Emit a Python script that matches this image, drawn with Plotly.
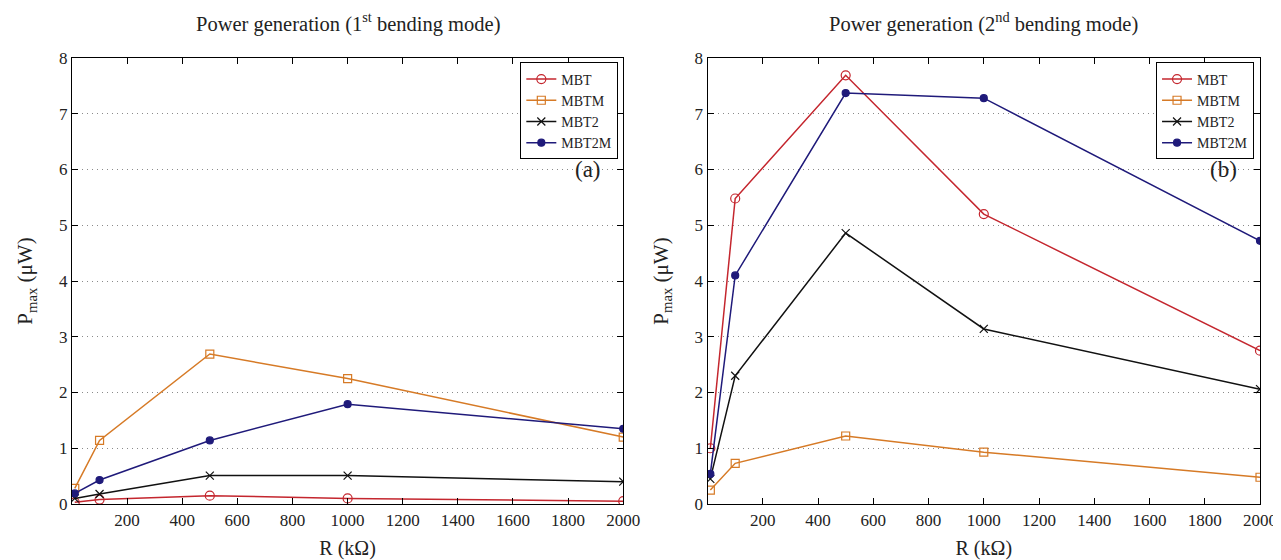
import plotly.graph_objects as go

R = [10, 100, 500, 1000, 2000]
series_names = ["MBT", "MBTM", "MBT2", "MBT2M"]
mode1 = {
    "MBT": [0.03, 0.08, 0.15, 0.10, 0.05],
    "MBTM": [0.28, 1.14, 2.69, 2.25, 1.20],
    "MBT2": [0.10, 0.18, 0.51, 0.51, 0.40],
    "MBT2M": [0.19, 0.43, 1.14, 1.79, 1.35],
}
mode2 = {
    "MBT": [1.00, 5.48, 7.69, 5.20, 2.75],
    "MBTM": [0.25, 0.73, 1.22, 0.93, 0.48],
    "MBT2": [0.45, 2.30, 4.86, 3.14, 2.06],
    "MBT2M": [0.54, 4.10, 7.37, 7.28, 4.72],
}
x_ticks = [200, 400, 600, 800, 1000, 1200, 1400, 1600, 1800, 2000]
y_ticks = [0, 1, 2, 3, 4, 5, 6, 7, 8]

styles = {
    "MBT": dict(color="#c4262e", symbol="circle-open", size=9),
    "MBTM": dict(color="#d67a26", symbol="square-open", size=8),
    "MBT2": dict(color="#111111", symbol="x-thin-open", size=8),
    "MBT2M": dict(color="#1f1a7a", symbol="circle", size=7),
}

FONT = "'Liberation Serif', 'Times New Roman', 'DejaVu Serif', serif"
fig = go.Figure()

for panel, data, xa, ya, leg in [(0, mode1, "x", "y", "legend"), (1, mode2, "x2", "y2", "legend2")]:
    for name in series_names:
        s = styles[name]
        fig.add_trace(go.Scatter(
            x=R, y=data[name], mode="lines+markers", name=name,
            xaxis=xa, yaxis=ya, legend=leg,
            line=dict(color=s["color"], width=1.5),
            marker=dict(symbol=s["symbol"], size=s["size"], color=s["color"],
                        line=dict(color=s["color"], width=1.2)),
        ))

axis_common = dict(
    showline=True, linecolor="black", linewidth=1.2, mirror="ticks",
    ticks="inside", ticklen=6, tickcolor="black",
    tickfont=dict(family=FONT, size=17, color="#222"),
    zeroline=False,
)
grid = dict(showgrid=True, gridcolor="#8a8a8a", griddash="1px,4px", gridwidth=1)
xtitle = dict(text="R (kΩ)", font=dict(family=FONT, size=20), standoff=12)
ytitle = dict(text="P<sub>max</sub> (μW)", font=dict(family=FONT, size=21), standoff=20)
leg_common = dict(y=0.99, xanchor="right", yanchor="top",
                  bgcolor="white", bordercolor="black", borderwidth=1,
                  font=dict(family=FONT, size=14, color="#222"),
                  tracegroupgap=0, itemwidth=30)

fig.update_layout(
    width=1281, height=560,
    margin=dict(l=64, r=21, t=50, b=59),
    plot_bgcolor="white", paper_bgcolor="white",
    font=dict(family=FONT, color="#222", size=17),
    showlegend=True,
    xaxis=dict(domain=[0, 0.464], range=[0, 2000], tickvals=x_ticks, showgrid=False,
               title=xtitle, **axis_common),
    yaxis=dict(domain=[0, 1], range=[0, 8], tickvals=y_ticks, title=ytitle, **grid, **axis_common),
    xaxis2=dict(domain=[0.535, 1], range=[0, 2000], tickvals=x_ticks, showgrid=False, anchor="y2",
                title=xtitle, **axis_common),
    yaxis2=dict(domain=[0, 1], range=[0, 8], tickvals=y_ticks, anchor="x2",
                title=ytitle, **grid, **axis_common),
    legend=dict(x=(614 - 64) / 1196, **leg_common),
    legend2=dict(x=(1254 - 64) / 1196, **leg_common),
)

fig.add_annotation(text="Power generation (1<sup>st</sup> bending mode)", x=0.232, y=1.045,
                   xref="paper", yref="paper", xanchor="center", yanchor="bottom",
                   showarrow=False, font=dict(family=FONT, size=20.5, color="#222"))
fig.add_annotation(text="Power generation (2<sup>nd</sup> bending mode)", x=0.7675, y=1.045,
                   xref="paper", yref="paper", xanchor="center", yanchor="bottom",
                   showarrow=False, font=dict(family=FONT, size=20.5, color="#222"))
fig.add_annotation(text="(a)", x=1925, y=6, xref="x", yref="y", xanchor="right",
                   showarrow=False, font=dict(family=FONT, size=23, color="#222"))
fig.add_annotation(text="(b)", x=1925, y=6, xref="x2", yref="y2", xanchor="right",
                   showarrow=False, font=dict(family=FONT, size=23, color="#222"))

fig.write_html("out.html")
